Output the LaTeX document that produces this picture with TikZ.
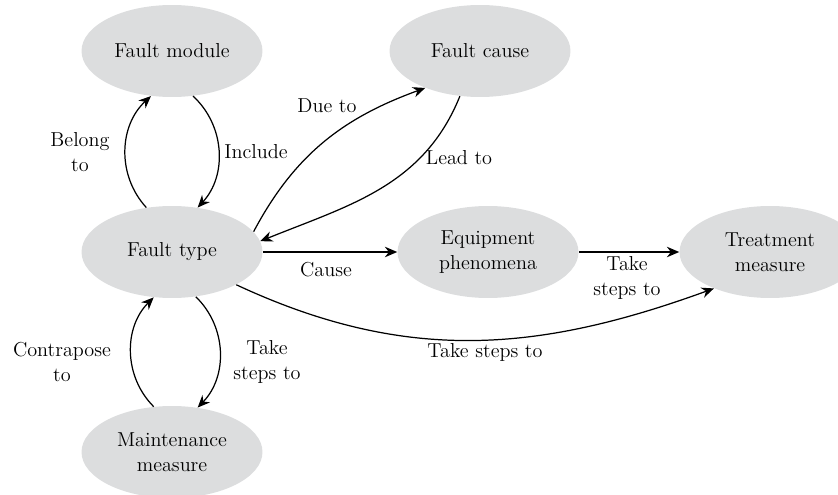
\documentclass[tikz,border=0pt]{standalone}
\usetikzlibrary{shapes.geometric}
\usetikzlibrary{arrows.meta}

\definecolor{blobgray}{RGB}{220,221,222}

\tikzset{
  blob/.style={ellipse, fill=blobgray, minimum width=3.62cm, minimum height=1.84cm,
    inner sep=0pt, align=center, font=\fontsize{11.5}{14}\selectfont},
  link/.style={line width=0.7pt, -{Stealth[length=7pt,width=6pt]}},
  lbl/.style={align=center, inner sep=1pt, font=\fontsize{11.5}{14}\selectfont}
}

\begin{document}
\begin{tikzpicture}[x=0.02cm, y=0.02cm]

\useasboundingbox (0,0) rectangle (838,494);

% concepts
\node[blob] (module) at (172,443) {Fault module};
\node[blob] (cause)  at (480,443) {Fault cause};
\node[blob] (type)   at (172,242) {Fault type};
\node[blob] (equip)  at (488,242) {Equipment\\phenomena};
\node[blob] (treat)  at (770,242) {Treatment\\measure};
\node[blob] (maint)  at (172,42)  {Maintenance\\measure};

% relations
\draw[link] (module.-65) to[bend left=45] (type.60);
\draw[link] (type.120) to[bend left=45] (module.245);
\draw[link] (type.14) to[out=62, in=200] (cause.214);
\draw[link] (cause.246) to[out=-112, in=22] (type.7);
\draw[link] (type.east) -- (equip.west);
\draw[link] (equip.east) -- (treat.west);
\draw[link] (type.-27) to[out=-25, in=200] (treat.213);
\draw[link] (type.-62) to[bend left=45] (maint.60);
\draw[link] (maint.112) to[bend left=45] (type.-112);

% labels
\node[lbl] (belong)  at (80,342)  {Belong\\to};
\node[lbl] (include) at (256,342) {Include};
\node[lbl] (dueto)   at (327,388) {Due to};
\node[lbl] (leadto)  at (459,336) {Lead to};
\node[lbl] (causes)  at (326,224) {Cause};
\node[lbl] (stepsA)  at (627,216) {Take\\steps to};
\node[lbl] (stepsB)  at (485,142) {Take steps to};
\node[lbl] (contra)  at (62,132)  {Contrapose\\to};
\node[lbl] (stepsC)  at (267,132) {Take\\steps to};

\end{tikzpicture}
\end{document}
